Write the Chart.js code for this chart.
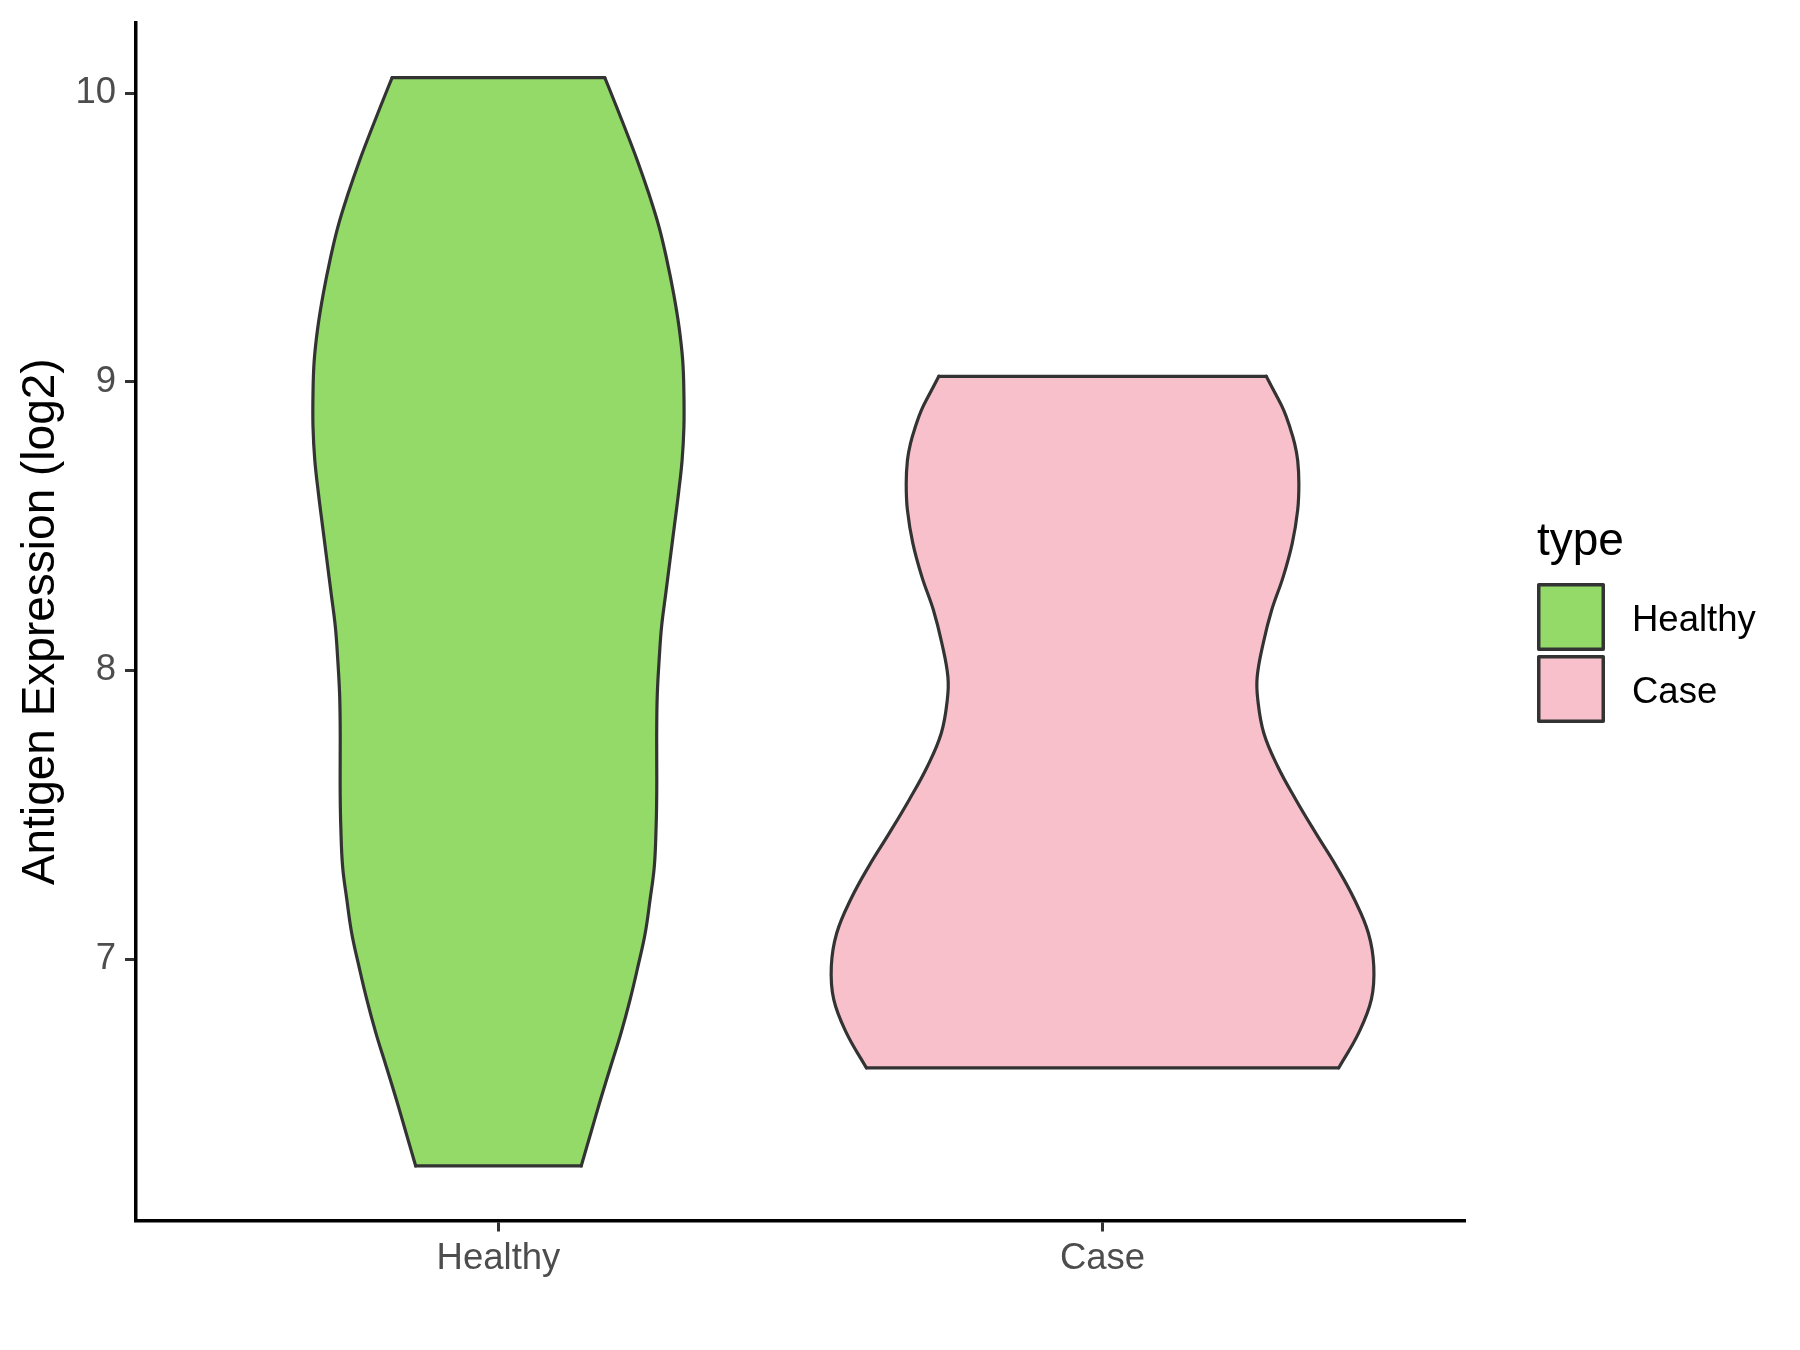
<!DOCTYPE html>
<html>
<head>
<meta charset="utf-8">
<title>Antigen Expression</title>
<script src="https://cdn.jsdelivr.net/npm/chart.js@4.4.1/dist/chart.umd.min.js"></script>
<style>
    html, body { margin: 0; padding: 0; background: #ffffff; }
    #wrap { width: 1800px; height: 1350px; }
</style>
</head>
<body>
<div id="wrap"><canvas id="violinChart" width="1800" height="1350"></canvas></div>
<script>
// categories and axis ticks
const categories = ['Healthy', 'Case'];
const yTicks = [7, 8, 9, 10];
const yTitle = 'Antigen Expression (log2)';
const legendTitle = 'type';

// violin outlines: y value and half width (x units)
const healthyY = [6.283, 6.398, 6.513, 6.629, 6.744, 6.860, 6.975, 7.090, 7.206, 7.321, 7.459, 7.575, 7.690, 7.805, 7.921, 8.036, 8.151, 8.267, 8.382, 8.497, 8.613, 8.728, 8.843, 8.959, 9.074, 9.189, 9.305, 9.420, 9.535, 9.651, 9.766, 9.881, 9.997, 10.054];
const healthyHalfWidth = [0.137, 0.153, 0.169, 0.186, 0.203, 0.218, 0.231, 0.243, 0.251, 0.258, 0.261, 0.262, 0.262, 0.262, 0.263, 0.266, 0.270, 0.277, 0.284, 0.291, 0.298, 0.304, 0.307, 0.307, 0.305, 0.299, 0.290, 0.279, 0.266, 0.249, 0.230, 0.209, 0.187, 0.176];

const caseY = [6.623, 6.744, 6.860, 6.975, 7.090, 7.206, 7.321, 7.436, 7.552, 7.667, 7.782, 7.898, 7.978, 8.094, 8.209, 8.324, 8.440, 8.555, 8.647, 8.728, 8.786, 8.843, 8.901, 8.959, 9.019];
const caseHalfWidth = [0.391, 0.424, 0.445, 0.449, 0.440, 0.417, 0.387, 0.353, 0.320, 0.290, 0.267, 0.257, 0.256, 0.266, 0.280, 0.299, 0.314, 0.323, 0.325, 0.323, 0.318, 0.310, 0.300, 0.286, 0.271];

const fillColors = ['#93DA69', '#F7C0CB'];
const outlineColor = '#333333';
const fontFamily = '"Liberation Sans", Arial, Helvetica, sans-serif';

const sidePoints = (center, ys, halfWidths, dir) => {
    return ys.map((y, i) => ({ x: center + dir * halfWidths[i], y }));
};

// one filled polygon plus four stroked edges per violin
// (smooth sides, straight top and bottom, so the corners stay sharp)
const violinDatasets = (center, ys, halfWidths, color) => {
    const right = sidePoints(center, ys, halfWidths, 1);
    const left = sidePoints(center, ys, halfWidths, -1);
    const last = ys.length - 1;
    const edge = {
        order: 0,
        borderColor: outlineColor,
        borderWidth: 3.2,
        borderCapStyle: 'round',
        borderJoinStyle: 'round',
        fill: false,
        pointRadius: 0,
        pointHoverRadius: 0
    };
    return [
        {
            order: 1,
            data: [...right, ...left.slice().reverse()],
            backgroundColor: color,
            borderWidth: 0,
            fill: 'shape',
            tension: 0,
            pointRadius: 0,
            pointHoverRadius: 0
        },
        { ...edge, data: right, tension: 0.4 },
        { ...edge, data: left, tension: 0.4 },
        { ...edge, data: [left[last], right[last]], tension: 0 },
        { ...edge, data: [left[0], right[0]], tension: 0 }
    ];
};

const legendPlugin = {
    id: 'typeLegend',
    afterDraw: (chart) => {
        const ctx = chart.ctx;
        const keyLeft = 1537;
        const keySize = 68;
        const keyTop = 583;
        const keyStep = 72;
        ctx.save();
        ctx.fillStyle = '#000000';
        ctx.font = '46px ' + fontFamily;
        ctx.textAlign = 'left';
        ctx.textBaseline = 'alphabetic';
        ctx.fillText(legendTitle, keyLeft, 555);

        ctx.font = '36.5px ' + fontFamily;
        ctx.textBaseline = 'middle';
        categories.forEach((name, i) => {
            const top = keyTop + i * keyStep;
            ctx.fillStyle = fillColors[i];
            ctx.strokeStyle = outlineColor;
            ctx.lineWidth = 3.5;
            ctx.lineJoin = 'round';
            ctx.fillRect(keyLeft + 1.75, top + 1.75, keySize - 3.5, keySize - 3.5);
            ctx.strokeRect(keyLeft + 1.75, top + 1.75, keySize - 3.5, keySize - 3.5);
            ctx.fillStyle = '#000000';
            ctx.fillText(name, 1632, top + keySize / 2 + 4);
        });
        ctx.restore();
    }
};

const violinChart = new Chart(document.getElementById('violinChart'), {
    type: 'line',
    data: {
        datasets: [
            ...violinDatasets(1, healthyY, healthyHalfWidth, fillColors[0]),
            ...violinDatasets(2, caseY, caseHalfWidth, fillColors[1])
        ]
    },
    options: {
        responsive: false,
        animation: false,
        devicePixelRatio: 1,
        layout: {
            padding: { top: 23, right: 335, bottom: 0, left: 0 }
        },
        plugins: {
            legend: { display: false },
            tooltip: { enabled: false }
        },
        scales: {
            x: {
                type: 'linear',
                min: 0.4,
                max: 2.6,
                afterBuildTicks: (scale) => {
                    scale.ticks = categories.map((_, i) => ({ value: i + 1 }));
                },
                afterFit: (scale) => {
                    scale.height = 129.5;
                    scale.paddingLeft = 0;
                    scale.paddingRight = 0;
                },
                ticks: {
                    callback: (value) => categories[value - 1],
                    color: '#4D4D4D',
                    font: { family: fontFamily, size: 36.5 },
                    padding: 5.5,
                    maxRotation: 0,
                    autoSkip: false
                },
                grid: {
                    drawOnChartArea: false,
                    drawTicks: true,
                    tickLength: 11,
                    tickColor: outlineColor,
                    tickWidth: 3
                },
                border: { display: true, color: '#000000', width: 3.5 }
            },
            y: {
                type: 'linear',
                min: 6.094,
                max: 10.243,
                afterBuildTicks: (scale) => {
                    scale.ticks = yTicks.map(v => ({ value: v }));
                },
                afterFit: (scale) => {
                    scale.width = 136;
                    scale.paddingTop = 0;
                    scale.paddingBottom = 0;
                },
                title: {
                    display: true,
                    text: yTitle,
                    color: '#000000',
                    font: { family: fontFamily, size: 46 },
                    padding: { top: 14, bottom: 0 }
                },
                ticks: {
                    callback: (value) => String(value),
                    color: '#4D4D4D',
                    font: { family: fontFamily, size: 36.5 },
                    padding: 9
                },
                grid: {
                    drawOnChartArea: false,
                    drawTicks: true,
                    tickLength: 11,
                    tickColor: outlineColor,
                    tickWidth: 3
                },
                border: { display: true, color: '#000000', width: 3.5 }
            }
        }
    },
    plugins: [legendPlugin]
});
</script>
</body>
</html>
